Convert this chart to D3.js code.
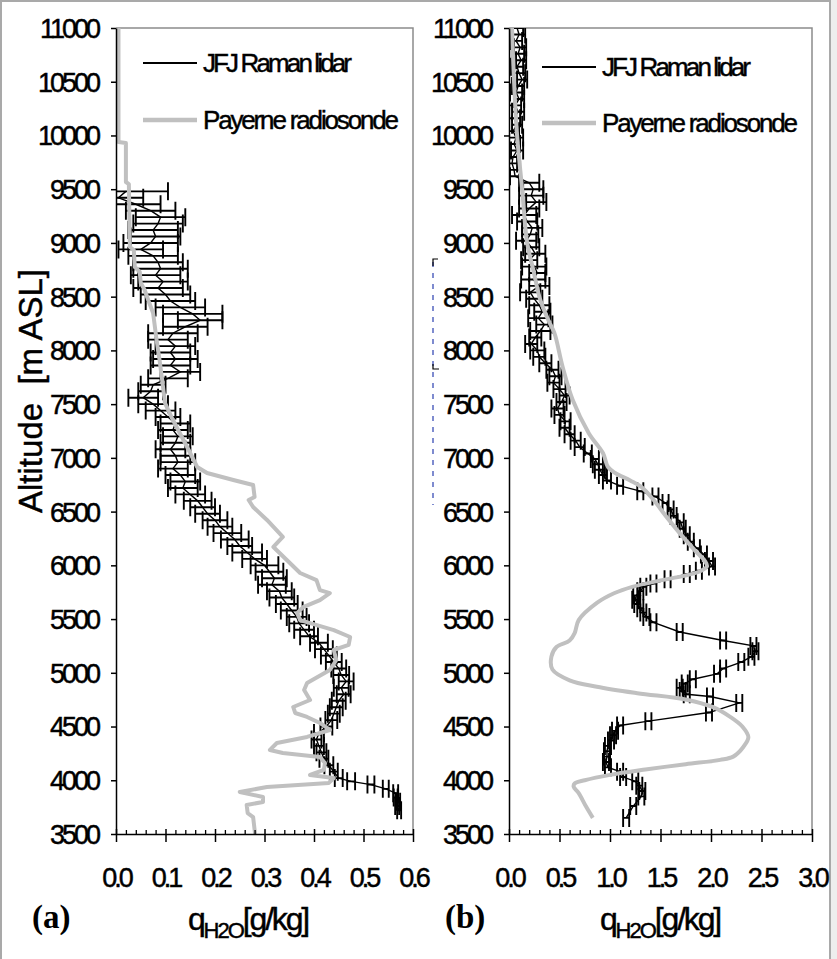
<!DOCTYPE html>
<html>
<head>
<meta charset="utf-8">
<script src="https://cdn.jsdelivr.net/npm/d3@7"></script>
<style>
  body { margin: 0; background: #fff; }
  svg { display: block; }
  text { font-family: "Liberation Sans", Arial, sans-serif; fill: #000; }
  .heavy { stroke: #000; stroke-width: 0.45px; }
</style>
</head>
<body>
<svg id="chart" width="837" height="959"></svg>
<script>
// ---------- data ----------
// (a) JFJ Raman lidar: altitude [m ASL], q [g/kg], error [g/kg]
const lidarAltA = [9480,9420,9360,9300,9240,9180,9120,9060,9000,8940,8880,8820,8760,8700,8640,8580,8520,8460,8400,8340,
  8280,8220,8160,8100,8040,7980,7920,7860,7800,7740,7680,7620,7560,7500,7440,7380,7320,7260,7200,7140,
  7080,7020,6960,6900,6840,6780,6720,6660,6600,6540,6480,6420,6360,6300,6240,6180,6120,6060,6000,5940,
  5880,5820,5760,5700,5640,5580,5520,5460,5400,5340,5280,5220,5160,5100,5040,4980,4920,4860,4800,4740,
  4680,4620,4560,4500,4440,4380,4320,4260,4200,4140,4080,4020,3990,3960,3920,3880,3840,3800,3760,3720];
const lidarQA = [0.02,0.005,0.04,0.07,0.09,0.085,0.075,0.08,0.07,0.05,0.075,0.085,0.09,0.08,0.095,0.085,0.10,0.11,0.13,0.155,
  0.17,0.14,0.115,0.105,0.12,0.11,0.12,0.11,0.13,0.105,0.075,0.07,0.055,0.075,0.09,0.105,0.12,0.115,0.125,0.12,
  0.11,0.12,0.125,0.115,0.13,0.14,0.135,0.15,0.165,0.175,0.185,0.20,0.21,0.225,0.24,0.25,0.265,0.28,0.30,0.31,
  0.32,0.315,0.33,0.335,0.345,0.355,0.365,0.37,0.38,0.39,0.41,0.42,0.43,0.44,0.45,0.455,0.465,0.455,0.46,0.45,
  0.445,0.44,0.435,0.425,0.41,0.405,0.41,0.415,0.42,0.43,0.44,0.45,0.475,0.515,0.545,0.565,0.565,0.57,0.568,0.572];
const lidarErrA = [0.085,0.05,0.05,0.05,0.05,0.05,0.05,0.05,0.055,0.045,0.05,0.05,0.055,0.05,0.05,0.05,0.05,0.05,0.05,0.06,
  0.045,0.045,0.05,0.04,0.04,0.04,0.045,0.04,0.04,0.04,0.025,0.025,0.03,0.03,0.03,0.025,0.03,0.03,0.03,0.03,
  0.03,0.03,0.035,0.03,0.03,0.03,0.03,0.03,0.028,0.025,0.025,0.025,0.025,0.028,0.028,0.025,0.03,0.025,0.028,0.028,
  0.025,0.028,0.025,0.025,0.022,0.022,0.02,0.02,0.02,0.018,0.018,0.018,0.016,0.016,0.015,0.016,0.015,0.015,0.014,0.014,
  0.013,0.012,0.012,0.012,0.01,0.01,0.01,0.01,0.009,0.009,0.008,0.008,0.008,0.007,0.006,0.005,0.004,0.004,0.004,0.004];

// (a) Payerne radiosonde
const sondeAltA = [11000,9939,9930,9567,9548,8962,8934,8776,8730,8627,8562,8469,8348,8097,7911,7659,7510,7352,7194,7045,
  6915,6859,6794,6747,6636,6608,6543,6422,6264,6171,6050,5929,5863,5770,5742,5677,5612,5556,5490,5397,
  5333,5259,5212,5119,5026,4905,4840,4747,4682,4626,4589,4533,4468,4403,4347,4282,4254,4216,4161,4096,
  4049,4021,3975,3937,3891,3844,3798,3770,3695,3658,3500];
const sondeQA = [0.005,0.005,0.02,0.02,0.026,0.028,0.036,0.038,0.048,0.05,0.058,0.065,0.075,0.082,0.088,0.095,0.099,0.115,0.133,0.15,
  0.164,0.184,0.237,0.277,0.28,0.268,0.277,0.305,0.337,0.318,0.345,0.372,0.405,0.412,0.432,0.412,0.378,0.366,0.372,0.44,
  0.473,0.47,0.44,0.445,0.432,0.386,0.38,0.392,0.358,0.362,0.386,0.412,0.432,0.386,0.325,0.311,0.337,0.412,0.422,0.42,
  0.392,0.44,0.43,0.305,0.25,0.297,0.297,0.264,0.266,0.277,0.281];

// (b) JFJ Raman lidar
const lidarAltB = [11000,10940,10880,10820,10760,10700,10640,10580,10520,10460,10400,10340,10280,10220,10160,10100,10040,9980,9920,9860,
  9800,9740,9680,9620,9560,9500,9440,9380,9320,9260,9200,9140,9080,9020,8960,8900,8840,8780,8720,8660,
  8600,8540,8480,8420,8360,8300,8240,8180,8120,8060,8000,7940,7880,7820,7760,7700,7640,7580,7520,7460,
  7400,7340,7280,7220,7160,7100,7040,6990,6940,6890,6840,6790,6740,6690,6640,6580,6520,6460,6400,6340,
  6280,6220,6160,6100,6040,5990,5950,5920,5870,5830,5800,5760,5720,5680,5640,5600,5560,5520,5470,5380,
  5300,5250,5200,5150,5100,5040,4990,4940,4900,4860,4830,4800,4780,4720,4630,4550,4510,4460,4420,4370,
  4320,4270,4220,4170,4120,4080,4030,3990,3950,3900,3850,3760,3650];
const lidarQB = [0.08,0.10,0.07,0.11,0.09,0.12,0.08,0.10,0.13,0.09,0.07,0.10,0.06,0.09,0.05,0.08,0.04,0.07,0.05,0.08,
  0.04,0.03,0.05,0.06,0.20,0.24,0.22,0.27,0.20,0.15,0.18,0.23,0.21,0.17,0.22,0.26,0.20,0.25,0.28,0.24,
  0.30,0.21,0.25,0.30,0.33,0.29,0.35,0.31,0.26,0.22,0.28,0.30,0.36,0.43,0.46,0.44,0.50,0.55,0.52,0.48,
  0.50,0.56,0.55,0.60,0.66,0.70,0.78,0.85,0.88,0.90,0.93,0.97,1.10,1.30,1.45,1.55,1.60,1.63,1.70,1.72,
  1.76,1.80,1.86,1.93,1.98,2.01,1.88,1.76,1.57,1.43,1.33,1.30,1.26,1.25,1.27,1.30,1.33,1.36,1.43,1.69,
  2.12,2.42,2.44,2.40,2.30,2.12,2.06,1.82,1.74,1.69,1.72,1.76,1.99,2.28,1.98,1.38,1.10,1.05,1.03,1.01,
  0.98,0.97,0.97,0.96,0.98,1.10,1.13,1.25,1.29,1.32,1.31,1.23,1.16];
const lidarErrB = [0.06,0.06,0.06,0.06,0.06,0.05,0.06,0.06,0.05,0.06,0.06,0.05,0.06,0.06,0.06,0.05,0.06,0.07,0.06,0.06,
  0.06,0.05,0.06,0.05,0.10,0.10,0.12,0.10,0.10,0.12,0.10,0.10,0.08,0.10,0.08,0.10,0.08,0.12,0.08,0.12,
  0.10,0.10,0.08,0.10,0.08,0.10,0.08,0.10,0.06,0.06,0.07,0.06,0.06,0.06,0.06,0.06,0.06,0.05,0.05,0.06,
  0.05,0.05,0.05,0.05,0.05,0.05,0.04,0.04,0.05,0.05,0.04,0.04,0.03,0.03,0.03,0.03,0.03,0.03,0.03,0.03,
  0.03,0.03,0.03,0.03,0.04,0.03,0.03,0.03,0.03,0.03,0.03,0.03,0.03,0.03,0.03,0.03,0.03,0.03,0.03,0.03,
  0.03,0.03,0.03,0.03,0.03,0.03,0.03,0.03,0.03,0.03,0.03,0.03,0.03,0.03,0.03,0.03,0.03,0.03,0.03,0.03,
  0.03,0.03,0.03,0.03,0.03,0.03,0.03,0.03,0.03,0.03,0.03,0.03,0.03];

// (b) Payerne radiosonde
const sondeAltB = [11000,10500,10000,9500,9000,8750,8470,8280,8160,7850,7540,7230,7045,6915,6860,6790,6730,6610,6450,6300,
  6140,6040,5990,5940,5900,5860,5800,5740,5650,5490,5370,5300,5240,5150,5030,4930,4870,4810,4750,4680,
  4590,4500,4400,4310,4220,4190,4150,4100,4050,4000,3970,3940,3880,3760,3650];
const sondeQB = [0.03,0.05,0.08,0.13,0.18,0.24,0.31,0.39,0.45,0.53,0.63,0.79,0.93,0.98,1.05,1.20,1.31,1.43,1.56,1.69,
  1.84,1.94,1.96,1.88,1.72,1.50,1.22,1.04,0.87,0.69,0.65,0.60,0.47,0.42,0.43,0.60,0.87,1.27,1.76,2.02,
  2.19,2.31,2.37,2.32,2.22,2.09,1.75,1.35,1.00,0.75,0.65,0.64,0.69,0.76,0.83];

// axes
const altTicks = [3500,4000,4500,5000,5500,6000,6500,7000,7500,8000,8500,9000,9500,10000,10500,11000];
const xTicksA = [0.0,0.1,0.2,0.3,0.4,0.5,0.6];
const xTicksB = [0.0,0.5,1.0,1.5,2.0,2.5,3.0];
const seriesNames = ["JFJ Raman lidar", "Payerne radiosonde"];
const panelTags = ["(a)", "(b)"];

// ---------- drawing ----------
const svg = d3.select("#chart");
const TOP = 28, BOTTOM = 834;
const y = d3.scaleLinear().domain([3500, 11000]).range([BOTTOM, TOP]);
const LIDAR = "#000", SONDE = "#c0c0c0";
const SANS = '"Liberation Sans", Arial, sans-serif';

// sheet frame
svg.append("rect").attr("x", 831).attr("y", 0).attr("width", 6).attr("height", 959).attr("fill", "#eeeeee");
svg.append("rect").attr("x", 1).attr("y", 1).attr("width", 829).attr("height", 990)
  .attr("fill", "none").attr("stroke", "#a9a9a9").attr("stroke-width", 2);

function drawPanel(p) {
  const x = d3.scaleLinear().domain([0, p.xmax]).range([p.left, p.right]);
  const g = svg.append("g");

  svg.append("clipPath").attr("id", "clip-" + p.key)
    .append("rect").attr("x", p.left).attr("y", TOP)
    .attr("width", p.right - p.left).attr("height", BOTTOM - TOP);

  // plot-area border (top and right)
  g.append("path").attr("d", `M${p.left},${TOP}H${p.right}V${BOTTOM}`)
    .attr("fill", "none").attr("stroke", "#8c8c8c").attr("stroke-width", 1.5);

  const plot = g.append("g").attr("clip-path", `url(#clip-${p.key})`);

  // lidar error bars
  const pts = d3.zip(p.lAlt, p.lQ, p.lErr);
  const cap = 9;
  const eb = plot.append("g").attr("stroke", LIDAR).attr("stroke-width", 1.9).attr("fill", "none");
  eb.selectAll("path").data(pts).join("path")
    .attr("d", d => {
      const yy = y(d[0]), x0 = x(d[1] - d[2]), x1 = x(d[1] + d[2]);
      return `M${x0},${yy}H${x1}M${x0},${yy - cap}V${yy + cap}M${x1},${yy - cap}V${yy + cap}`;
    });

  // lidar profile
  plot.append("path").datum(pts)
    .attr("d", d3.line().x(d => x(d[1])).y(d => y(d[0])))
    .attr("fill", "none").attr("stroke", LIDAR).attr("stroke-width", 1.4);

  // radiosonde profile
  plot.append("path").datum(d3.zip(p.sAlt, p.sQ))
    .attr("d", d3.line().x(d => x(d[1])).y(d => y(d[0])).curve(p.curve))
    .attr("fill", "none").attr("stroke", SONDE).attr("stroke-width", 4)
    .attr("stroke-linejoin", "round");

  // y axis
  const ya = g.append("g").attr("transform", `translate(${p.left},0)`)
    .call(d3.axisLeft(y).tickValues(altTicks).tickFormat(d3.format("d"))
      .tickSize(5).tickSizeOuter(0).tickPadding(13));
  ya.select(".domain").attr("stroke", "#000").attr("stroke-width", 1.5);
  ya.selectAll(".tick line").attr("stroke", "#000").attr("stroke-width", 1.5);
  ya.selectAll(".tick text").attr("font-size", 27).attr("letter-spacing", "-3px")
    .attr("dy", "0.35em").attr("class", "heavy").style("font-family", SANS);

  // x axis: major ticks crossing, minor ticks inside
  const minor = d3.range(0, p.xmax + 1e-9, p.minor).filter(v => !p.xticks.some(t => Math.abs(t - v) < 1e-9));
  const xm = g.append("g").attr("transform", `translate(0,${BOTTOM})`)
    .call(d3.axisBottom(x).tickValues(minor).tickSize(-4).tickSizeOuter(0).tickFormat(""));
  xm.select(".domain").remove();
  xm.selectAll(".tick line").attr("stroke", "#000").attr("stroke-width", 1.3);
  const xi = g.append("g").attr("transform", `translate(0,${BOTTOM})`)
    .call(d3.axisBottom(x).tickValues(p.xticks).tickSize(-5).tickSizeOuter(0).tickFormat(""));
  xi.select(".domain").remove();
  xi.selectAll(".tick line").attr("stroke", "#000").attr("stroke-width", 1.5);
  const xa = g.append("g").attr("transform", `translate(0,${BOTTOM})`)
    .call(d3.axisBottom(x).tickValues(p.xticks).tickFormat(d3.format(".1f"))
      .tickSize(8).tickSizeOuter(0).tickPadding(26));
  xa.select(".domain").attr("stroke", "#000").attr("stroke-width", 1.5);
  xa.selectAll(".tick line").attr("stroke", "#000").attr("stroke-width", 1.5);
  xa.selectAll(".tick text").attr("font-size", 27).attr("letter-spacing", "-3px")
    .attr("class", "heavy").style("font-family", SANS);

  // legend
  const lg = g.append("g");
  [[LIDAR, 1.8, p.legY[0], 149], [SONDE, 4.5, p.legY[1], 196]].forEach(([c, w, ly, len], i) => {
    lg.append("line").attr("x1", p.legX).attr("x2", p.legX + 54).attr("y1", ly).attr("y2", ly)
      .attr("stroke", c).attr("stroke-width", w);
    lg.append("text").attr("x", p.legX + 60).attr("y", ly).attr("dy", "0.36em")
      .attr("font-size", 26).attr("class", "heavy")
      .attr("textLength", len).attr("lengthAdjust", "spacing").text(seriesNames[i]);
  });

  // x-axis title: q_H2O [g/kg]
  const t = g.append("text").attr("x", p.titleX).attr("y", 930).attr("class", "heavy")
    .attr("font-size", 32).attr("letter-spacing", "-2.2px");
  t.append("tspan").text("q");
  t.append("tspan").attr("font-size", 22).attr("dy", 8).attr("letter-spacing", "-2px").text("H2O");
  t.append("tspan").attr("dy", -8).text("[g/kg]");

  // panel tag
  g.append("text").attr("x", p.tagX).attr("y", 928)
    .style("font-family", '"Liberation Serif", "Times New Roman", serif')
    .attr("font-weight", "bold").attr("font-size", 33).text(p.tag);
}

drawPanel({ key: "a", left: 116, right: 413, xmax: 0.6, minor: 0.02, xticks: xTicksA,
  lAlt: lidarAltA, lQ: lidarQA, lErr: lidarErrA, sAlt: sondeAltA, sQ: sondeQA, curve: d3.curveLinear,
  legX: 143, legY: [63, 120], titleX: 188, tagX: 32, tag: panelTags[0] });

drawPanel({ key: "b", left: 509, right: 812, xmax: 3.0, minor: 0.1, xticks: xTicksB,
  lAlt: lidarAltB, lQ: lidarQB, lErr: lidarErrB, sAlt: sondeAltB, sQ: sondeQB, curve: d3.curveCatmullRom,
  legX: 542, legY: [67, 123], titleX: 600, tagX: 445, tag: panelTags[1] });

// y-axis title
svg.append("text").attr("transform", "translate(42,391) rotate(-90)")
  .attr("text-anchor", "middle").attr("font-size", 33).attr("class", "heavy").style("white-space", "pre")
  .text("Altitude  [m ASL]");

// stray dashed frame fragment left of panel (b)
const frag = svg.append("g");
frag.append("line").attr("x1", 433).attr("x2", 433).attr("y1", 262).attr("y2", 505)
  .attr("stroke", "#2a3fb0").attr("stroke-width", 1.2).attr("stroke-dasharray", "5,6");
frag.append("path").attr("d", "M433,266V259H438").attr("fill", "none").attr("stroke", "#000").attr("stroke-width", 1.2);
frag.append("path").attr("d", "M433,364V369H439").attr("fill", "none").attr("stroke", "#000").attr("stroke-width", 1.2);
</script>
</body>
</html>
